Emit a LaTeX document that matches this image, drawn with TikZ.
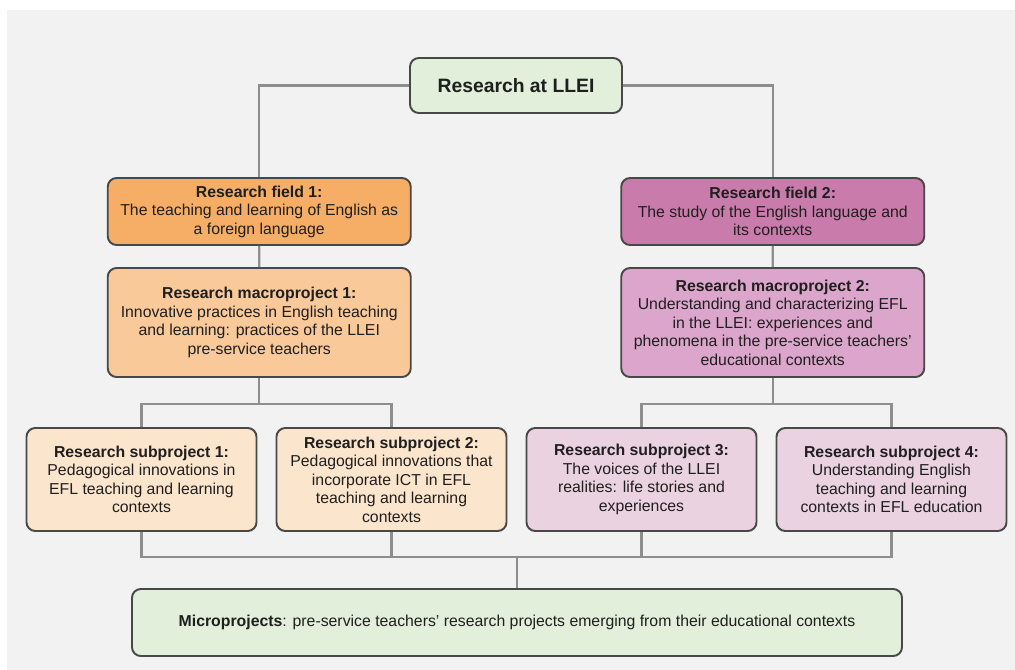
\documentclass[tikz,border=0pt]{standalone}
\usepackage{fontspec}
\setmainfont{Liberation Sans}
\definecolor{panel}{HTML}{F2F2F2}
\definecolor{boxline}{HTML}{484848}
\definecolor{wire}{HTML}{8E8E8E}
\definecolor{textdark}{HTML}{1F1F1F}
\definecolor{rootfill}{HTML}{E2EFDA}
\definecolor{fieldonefill}{HTML}{F6AE66}
\definecolor{fieldtwofill}{HTML}{C97BAC}
\definecolor{macroonefill}{HTML}{F9C99A}
\definecolor{macrotwofill}{HTML}{DCA6CC}
\definecolor{subonefill}{HTML}{FCE5CD}
\definecolor{subtwofill}{HTML}{EBD2E0}
\begin{document}
\begin{tikzpicture}[
box/.style={draw=boxline, line width=1.1pt, rounded corners=5pt, align=center,
  text=textdark, font=\fontsize{9}{10.5}\selectfont, inner sep=2pt},
rootbox/.style={box, fill=rootfill, minimum width=4.24cm, minimum height=1.1cm,
  font=\fontsize{11}{13}\selectfont\bfseries},
fieldbox/.style={box, fill=#1, minimum width=6.06cm, minimum height=1.34cm},
macrobox/.style={box, fill=#1, minimum width=6.06cm, minimum height=2.18cm},
subbox/.style={box, fill=#1, minimum width=4.6cm, minimum height=2.06cm},
microbox/.style={box, fill=rootfill, minimum width=15.4cm, minimum height=1.34cm},
level 1/.style={sibling distance=10.27cm, level distance=2.52cm,
  edge from parent path={(\tikzparentnode) -| (\tikzchildnode)}},
level 2/.style={level distance=2.22cm,
  edge from parent path={(\tikzparentnode.south) -- (\tikzchildnode.north)}},
level 3/.style={sibling distance=5cm, level distance=3.14cm,
  edge from parent path={(\tikzparentnode.south) -- ++(0,-0.52) -| (\tikzchildnode.north)}},
edge from parent/.style={draw=wire, line width=1.3pt}
]
\useasboundingbox (-10.32,1.71) rectangle (9.98,-11.69);
\fill[panel] (-10.18,1.51) rectangle (9.98,-11.69);
\node[rootbox] (root) {Research at LLEI}
    child { node[fieldbox=fieldonefill] (field1) {\textbf{Research field 1:}\\The teaching and learning of English as\\a foreign language}
        child { node[macrobox=macroonefill] (macro1) {\textbf{Research macroproject 1:}\\Innovative practices in English teaching\\and learning: practices of the LLEI\\pre-service teachers}
            child [xshift=0.145cm] { node[subbox=subonefill] (sub1) {\textbf{Research subproject 1:}\\Pedagogical innovations in\\EFL teaching and learning\\contexts}}
            child [xshift=0.145cm] { node[subbox=subonefill] (sub2) {\textbf{Research subproject 2:}\\Pedagogical innovations that\\incorporate ICT in EFL\\teaching and learning\\contexts}}
        }
    }
    child { node[fieldbox=fieldtwofill] (field2) {\textbf{Research field 2:}\\The study of the English language and\\its contexts}
        child { node[macrobox=macrotwofill] (macro2) {\textbf{Research macroproject 2:}\\Understanding and characterizing EFL\\in the LLEI: experiences and\\phenomena in the pre-service teachers'\\educational contexts}
            child [xshift=-0.125cm] { node[subbox=subtwofill] (sub3) {\textbf{Research subproject 3:}\\The voices of the LLEI\\realities: life stories and\\experiences}}
            child [xshift=-0.125cm] { node[subbox=subtwofill] (sub4) {\textbf{Research subproject 4:}\\Understanding English\\teaching and learning\\contexts in EFL education}}
        }
    };
\node[microbox] (micro) at (0.02,-10.74) {\textbf{Microprojects}: pre-service teachers' research projects emerging from their educational contexts};
\draw[draw=wire, line width=1.3pt] (micro.north) -- ++(0,0.62) coordinate (bus);
\draw[draw=wire, line width=1.3pt] (sub1.south) |- (bus) -| (sub4.south);
\draw[draw=wire, line width=1.3pt] (sub2.south) -- (sub2.south |- bus);
\draw[draw=wire, line width=1.3pt] (sub3.south) -- (sub3.south |- bus);
\end{tikzpicture}
\end{document}
